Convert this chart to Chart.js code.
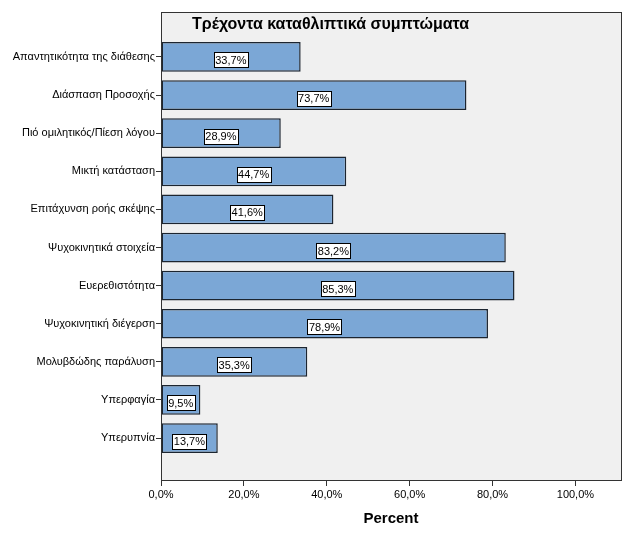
<!DOCTYPE html>
<html>
<head>
<meta charset="utf-8">
<script src="https://cdn.jsdelivr.net/npm/chart.js@4"></script>
<style>
    html, body { margin: 0; padding: 0; background: #fff; }
    #wrap { width: 633px; height: 548px; }
</style>
</head>
<body>
<div id="wrap"><canvas id="symptomsChart" width="633" height="548"></canvas></div>
<script>
const categories = [
    "Απαντητικότητα της διάθεσης",
    "Διάσπαση Προσοχής",
    "Πιό ομιλητικός/Πίεση λόγου",
    "Μικτή κατάσταση",
    "Επιτάχυνση ροής σκέψης",
    "Ψυχοκινητικά στοιχεία",
    "Ευερεθιστότητα",
    "Ψυχοκινητική διέγερση",
    "Μολυβδώδης παράλυση",
    "Υπερφαγία",
    "Υπερυπνία"
];
const percents = [33.7, 73.7, 28.9, 44.7, 41.6, 83.2, 85.3, 78.9, 35.3, 9.5, 13.7];
const xTicks = [0, 20, 40, 60, 80, 100];
const chartTitle = "Τρέχοντα καταθλιπτικά συμπτώματα";
const axisTitle = "Percent";

const FONT = "'Liberation Sans', Arial, sans-serif";

function fmt(v) {
    return v.toFixed(1).replace(".", ",") + "%";
}

// plot background, border, title and value boxes
const plotDecor = {
    id: "plotDecor",
    beforeDatasetsDraw(chart) {
        const { ctx, chartArea: a } = chart;
        ctx.save();
        ctx.fillStyle = "#f0f0f0";
        ctx.fillRect(a.left, a.top, a.right - a.left, a.bottom - a.top);
        ctx.restore();
    },
    afterDatasetsDraw(chart) {
        const { ctx, chartArea: a } = chart;
        const meta = chart.getDatasetMeta(0);
        const xScale = chart.scales.x;
        ctx.save();
        ctx.font = "11px " + FONT;
        ctx.textAlign = "center";
        ctx.textBaseline = "middle";
        meta.data.forEach((bar, i) => {
            const cx = (xScale.getPixelForValue(0) + bar.x) / 2;
            const cy = bar.y + 3;
            const txt = fmt(percents[i]);
            const w = Math.round(ctx.measureText(txt).width + 3);
            const h = 15;
            const bx = Math.round(cx - w / 2) + 0.5;
            const by = Math.round(cy - h / 2) + 0.5;
            ctx.fillStyle = "#fff";
            ctx.fillRect(bx, by, w, h);
            ctx.strokeStyle = "#000";
            ctx.lineWidth = 1;
            ctx.strokeRect(bx, by, w, h);
            ctx.fillStyle = "#000";
            ctx.fillText(txt, cx, cy + 1);
        });

        ctx.strokeStyle = "#333";
        ctx.lineWidth = 1;
        ctx.strokeRect(a.left + 0.5, a.top + 0.5, a.right - a.left, a.bottom - a.top);

        ctx.font = "bold 16px " + FONT;
        ctx.textAlign = "left";
        ctx.fillStyle = "#000";
        ctx.fillText(chartTitle, 192, 25);
        ctx.restore();
    }
};

const ctx = document.getElementById("symptomsChart").getContext("2d");
new Chart(ctx, {
    type: "bar",
    data: {
        datasets: [{
            label: axisTitle,
            data: percents.map((v, i) => ({ x: v, y: i })),
            backgroundColor: "#7ba7d6",
            borderColor: "#1c2530",
            borderWidth: 1.5,
            borderSkipped: false,
            barPercentage: 0.78,
            categoryPercentage: 1
        }]
    },
    options: {
        indexAxis: "y",
        responsive: false,
        animation: false,
        layout: { padding: { top: 12, right: 12, left: 0, bottom: 0 } },
        plugins: {
            legend: { display: false },
            tooltip: { enabled: false }
        },
        scales: {
            x: {
                type: "linear",
                min: 0,
                max: 111,
                afterBuildTicks(scale) {
                    scale.ticks = xTicks.map(v => ({ value: v }));
                },
                afterFit(scale) { scale.height = 68; },
                ticks: {
                    color: "#000",
                    font: { family: FONT, size: 11 },
                    padding: 2,
                    callback: v => fmt(v)
                },
                grid: {
                    drawOnChartArea: false,
                    tickLength: 6,
                    tickColor: "#333",
                    color: "#333"
                },
                border: { display: false },
                title: {
                    display: true,
                    text: axisTitle,
                    color: "#000",
                    font: { family: FONT, size: 15, weight: "bold" },
                    padding: { top: 0, bottom: 20 }
                }
            },
            y: {
                type: "linear",
                reverse: true,
                offset: false,
                min: -1.18,
                max: 11.1,
                afterBuildTicks(scale) {
                    scale.ticks = categories.map((c, i) => ({ value: i }));
                },
                afterFit(scale) { scale.width = 161; },
                ticks: {
                    color: "#000",
                    font: { family: FONT, size: 11 },
                    padding: 1,
                    callback: v => categories[v]
                },
                grid: {
                    offset: false,
                    drawOnChartArea: false,
                    tickLength: 5,
                    tickColor: "#333"
                },
                border: { display: false }
            }
        }
    },
    plugins: [plotDecor]
});
</script>
</body>
</html>
